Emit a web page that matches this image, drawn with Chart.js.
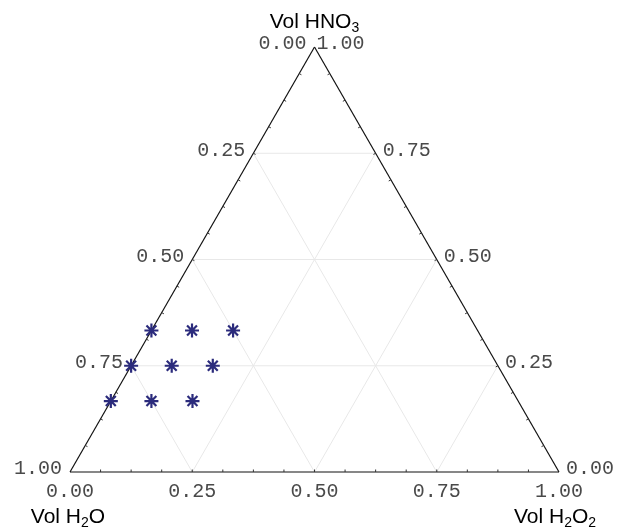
<!DOCTYPE html>
<html>
<head>
<meta charset="utf-8">
<script src="https://cdn.jsdelivr.net/npm/chart.js@4/dist/chart.umd.min.js"></script>
<style>
  html, body { margin: 0; padding: 0; background: #fff; }
  canvas { display: block; }
</style>
</head>
<body>
<canvas id="tern" width="617" height="528"></canvas>
<script>
// ===============================
// Data (volume fractions)
// ===============================
const hno3 = [0.333, 0.333, 0.333, 0.25, 0.25, 0.25, 0.167, 0.167, 0.167];
const h2o2 = [0.0, 0.083, 0.167, 0.0, 0.083, 0.167, 0.0, 0.083, 0.167];
const tickValues = [0, 0.25, 0.5, 0.75, 1];
const tickLabels = ["0.00", "0.25", "0.50", "0.75", "1.00"];
const axisTitles = ["Vol HNO", "Vol H", "Vol H"];

const H = Math.sqrt(3) / 2;

// ternary -> cartesian (H2O2 to the right, HNO3 up)
const toXY = (b, c) => ({ x: b + c / 2, y: c * H });

const points = hno3.map((c, i) => toXY(h2o2[i], c));

// ===============================
// Triangle frame, grid, ticks, labels
// ===============================
const ternaryFrame = {
  id: "ternaryFrame",
  beforeDatasetsDraw(chart) {
    const { ctx, scales } = chart;
    const px = p => [scales.x.getPixelForValue(p.x), scales.y.getPixelForValue(p.y)];
    const line = (p, q) => {
      const a = px(p), b = px(q);
      ctx.beginPath();
      ctx.moveTo(a[0], a[1]);
      ctx.lineTo(b[0], b[1]);
      ctx.stroke();
    };

    ctx.save();

    // grid
    ctx.strokeStyle = "#e8e8e8";
    ctx.lineWidth = 1;
    [0.25, 0.5, 0.75].forEach(t => {
      line(toXY(0, t), toXY(1 - t, t));   // constant HNO3
      line(toXY(t, 0), toXY(t, 1 - t));   // constant H2O2
      line(toXY(0, t), toXY(t, 0));       // constant H2O
    });

    // edges
    ctx.strokeStyle = "#111";
    ctx.lineWidth = 1.2;
    const A = toXY(0, 0), B = toXY(1, 0), C = toXY(0, 1);
    line(A, B); line(B, C); line(C, A);

    // minor ticks, pointing inward
    ctx.lineWidth = 1;
    ctx.strokeStyle = "#333";
    for (let i = 1; i < 16; i++) {
      const t = i / 16;
      let a = px(toXY(t, 0));
      ctx.beginPath(); ctx.moveTo(a[0], a[1]); ctx.lineTo(a[0], a[1] - 2.5); ctx.stroke();
      a = px(toXY(0, t));
      ctx.beginPath(); ctx.moveTo(a[0], a[1]); ctx.lineTo(a[0] + 2.2, a[1] + 1.2); ctx.stroke();
      a = px(toXY(1 - t, t));
      ctx.beginPath(); ctx.moveTo(a[0], a[1]); ctx.lineTo(a[0] - 2.2, a[1] + 1.2); ctx.stroke();
    }

    // tick labels
    ctx.fillStyle = "#4a4a4a";
    ctx.font = "20px 'Liberation Mono', 'DejaVu Sans Mono', monospace";
    tickValues.forEach((v, i) => {
      // bottom: H2O2 fraction
      let a = px(toXY(v, 0));
      ctx.textAlign = "center"; ctx.textBaseline = "middle";
      ctx.fillText(tickLabels[i], a[0], a[1] + 20);
      // left: H2O fraction (1 at bottom-left)
      a = px(toXY(0, 1 - v));
      ctx.textAlign = "right";
      ctx.fillText(tickLabels[i], a[0] - 8, a[1] - 3);
      // right: HNO3 fraction
      a = px(toXY(1 - v, v));
      ctx.textAlign = "left";
      ctx.fillText(tickLabels[i], a[0] + (v === 1 ? 2 : 7), a[1] - 3);
    });

    // axis titles with subscripts
    const title = (parts, cx, cy) => {
      const big = "21px 'Liberation Sans', Arial, sans-serif";
      const small = "14px 'Liberation Sans', Arial, sans-serif";
      let w = 0;
      parts.forEach(p => { ctx.font = p.sub ? small : big; w += ctx.measureText(p.t).width; });
      let x = cx - w / 2;
      ctx.textAlign = "left"; ctx.textBaseline = "middle"; ctx.fillStyle = "#000";
      parts.forEach(p => {
        ctx.font = p.sub ? small : big;
        ctx.fillText(p.t, x, p.sub ? cy + 6 : cy);
        x += ctx.measureText(p.t).width;
      });
    };
    let a = px(C);
    title([{ t: axisTitles[0] }, { t: "3", sub: true }], a[0], 22);
    a = px(A);
    title([{ t: axisTitles[1] }, { t: "2", sub: true }, { t: "O" }], a[0] - 2, 517);
    a = px(B);
    title([{ t: axisTitles[2] }, { t: "2", sub: true }, { t: "O" }, { t: "2", sub: true }], a[0] - 4, 517);

    ctx.restore();
  }
};

new Chart(document.getElementById("tern"), {
  type: "scatter",
  data: {
    datasets: [{
      data: points,
      pointStyle: "star",
      radius: 7,
      borderWidth: 2.2,
      borderColor: "#2b2b7c",
      backgroundColor: "#2b2b7c"
    }]
  },
  options: {
    responsive: false,
    animation: false,
    layout: { padding: { left: 70, right: 58, top: 47, bottom: 56 } },
    plugins: { legend: { display: false }, tooltip: { enabled: false } },
    scales: {
      x: { type: "linear", min: 0, max: 1, display: false },
      y: { type: "linear", min: 0, max: H, display: false }
    }
  },
  plugins: [ternaryFrame]
});
</script>
</body>
</html>
